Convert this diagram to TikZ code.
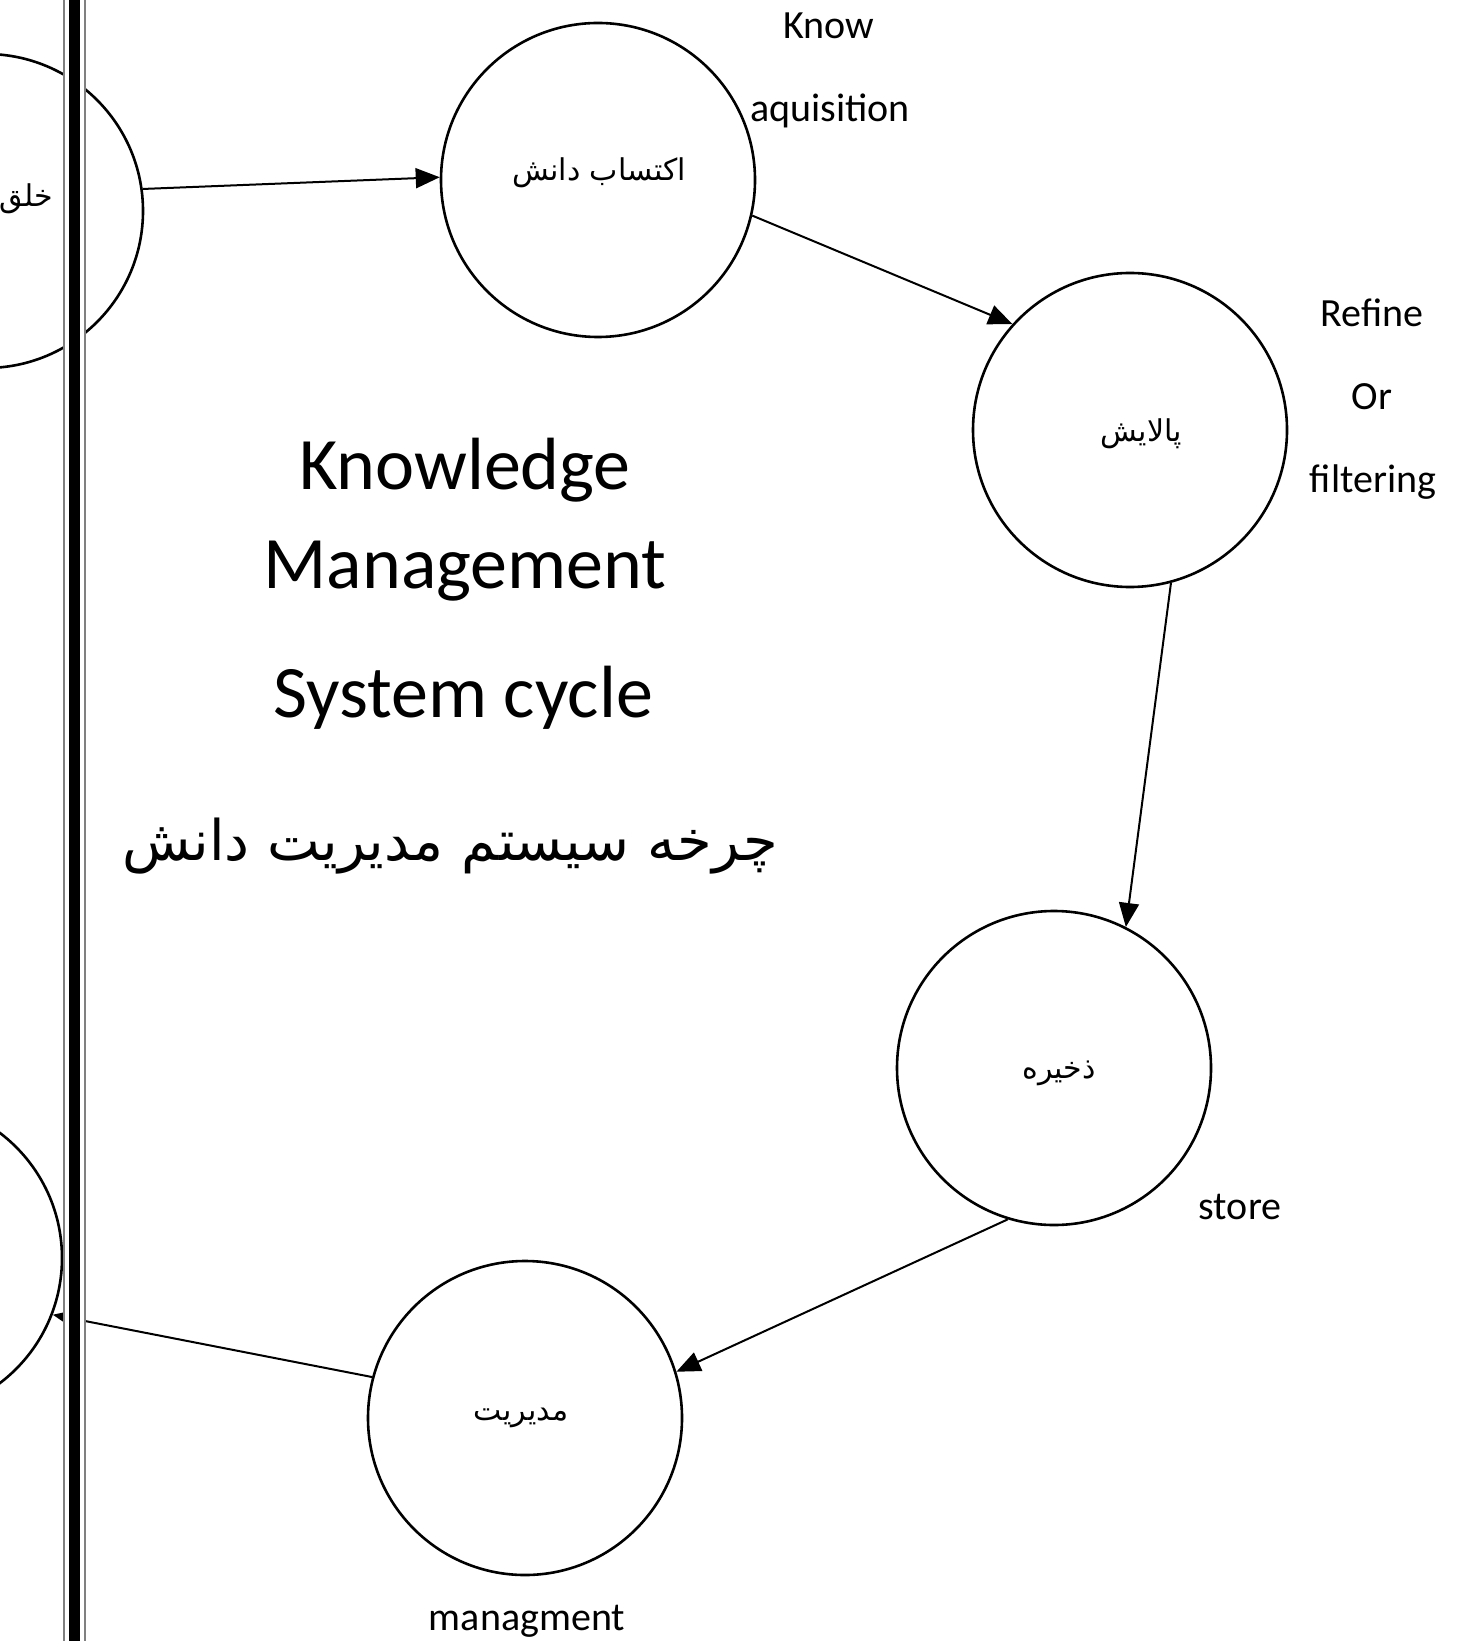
\documentclass[tikz,border=0pt]{standalone}
\usepackage{fontspec}
\setmainfont{Carlito}
\newfontfamily\fa[Script=Arabic]{DejaVu Sans}
\TeXXeTstate=1
\usetikzlibrary{arrows.meta}
\begin{document}
\begin{tikzpicture}[x=0.5pt,y=-0.5pt,
  stage/.style={circle,draw,line width=1.3pt,minimum size=157pt,inner sep=0pt},
  arr/.style={line width=1pt,-{Triangle[length=12pt,width=10pt]}},
  lab/.style={font=\fontsize{20}{24}\selectfont,anchor=base,inner sep=0pt},
  ttl/.style={font=\fontsize{37}{44}\selectfont,anchor=base,inner sep=0pt},
  fat/.style={font=\fa\fontsize{15}{18}\selectfont,inner sep=0pt}]
\useasboundingbox (0,0) rectangle (1456,1641);
\clip (0,0) rectangle (1456,1641);
\fill[white] (0,0) rectangle (1456,1641);
% stages
\node[stage] (create) at (-14,211) {};
\node[stage] (acq) at (598,180) {};
\node[stage] (ref) at (1130,430) {};
\node[stage] (sto) at (1054,1068) {};
\node[stage] (man) at (525,1418) {};
\node[stage] (use) at (-95,1258) {};
% stage texts
\node[fat,anchor=east] (tcreate) at (53,199) {\beginR خلق\endR};
\node[fat] (tacq) at (599,173) {\beginR اکتساب دانش\endR};
\node[fat] (tref) at (1141,434) {\beginR پالایش\endR};
\node[fat] (tsto) at (1059,1073) {\beginR ذخیره\endR};
\node[fat] (tman) at (521,1418) {\beginR مدیریت\endR};
% connectors
\draw[arr] (create.8) -- (acq.179);
\draw[arr] (acq.-13) -- (ref.138);
\draw[arr] (ref.-75) -- (sto.63);
\draw[arr] (sto.-107) -- (man.17);
\draw[arr] (man.165) -- (use.-21);
% left bar
\fill[white] (64,-10) rectangle (85,1660);
\draw[gray,line width=0.6pt] (64,-10) -- (64,1660) (85,-10) -- (85,1660);
\fill[black] (69,-10) rectangle (80,1660);
% labels
\node[lab] (l1) at (829,39) {Know};
\node[lab] (l2) at (830,122) {aquisition};
\node[lab] (l3) at (1372,327) {Refine};
\node[lab] (l4) at (1372,410) {Or};
\node[lab] (l5) at (1373,493) {filtering};
\node[lab] (l6) at (1240,1219) {store};
\node[lab] (l7) at (527,1630) {managment};
% title
\node[ttl] (t1) at (465,490) {Knowledge};
\node[ttl] (t2) at (465,588) {Management};
\node[ttl] (t3) at (463,717) {System cycle};
\node[font=\fa\fontsize{28}{34}\selectfont,anchor=base,inner sep=0pt] (t4) at (450,860) {\beginR چرخه سیستم مدیریت دانش\endR};
\end{tikzpicture}
\end{document}
